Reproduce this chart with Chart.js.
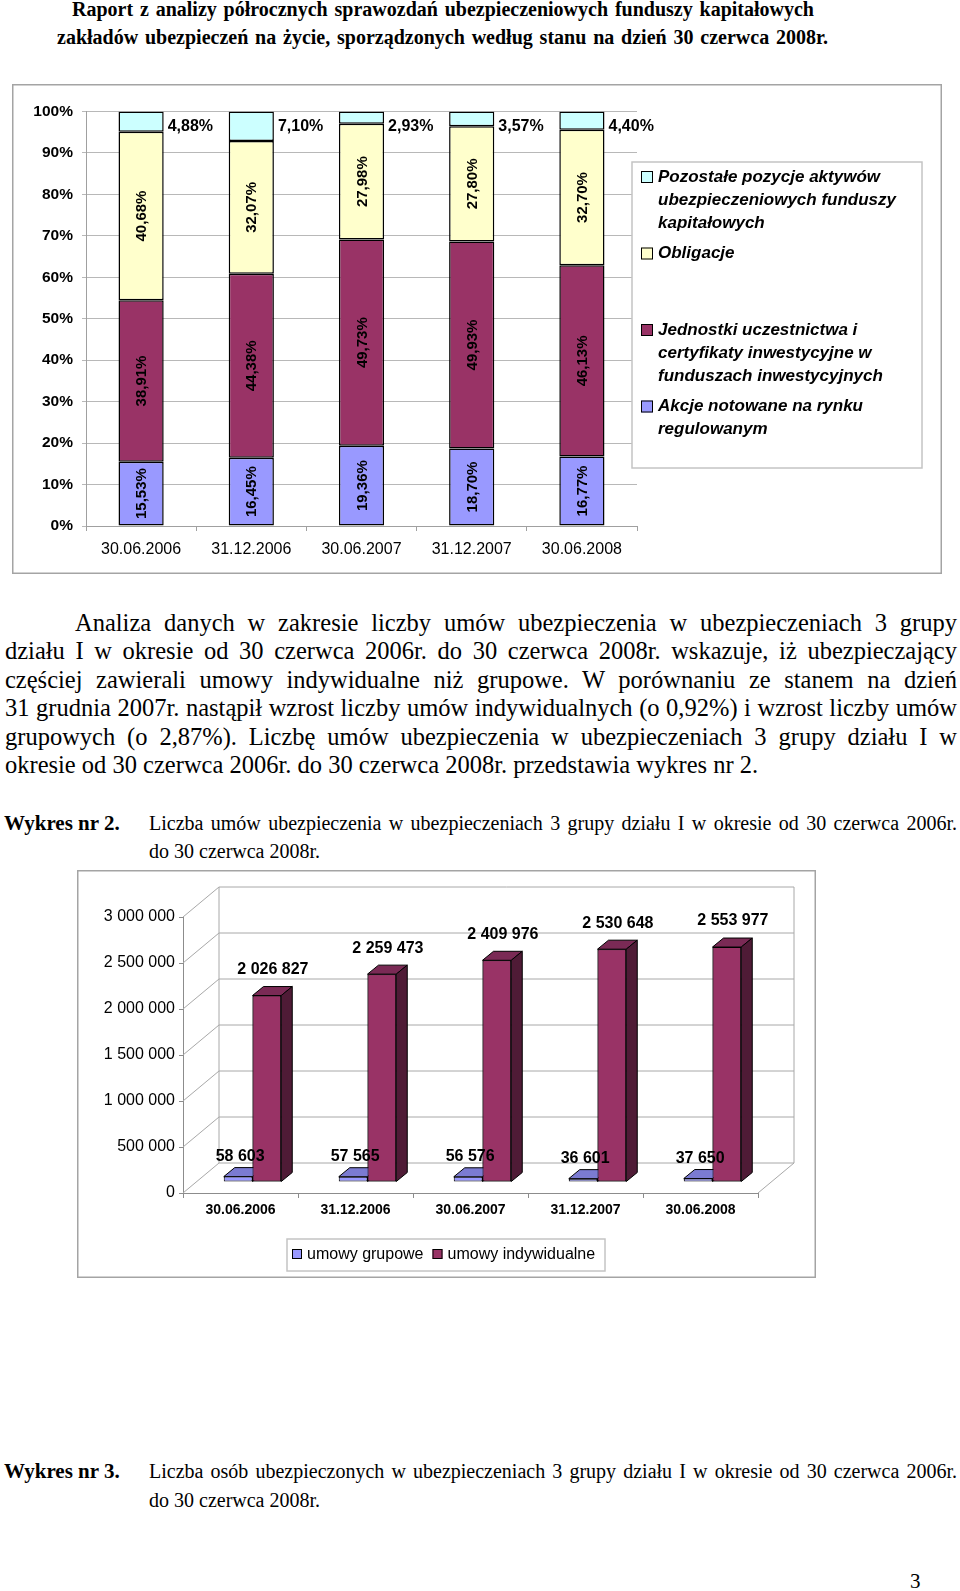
<!DOCTYPE html>
<html lang="pl">
<head>
<meta charset="utf-8">
<title>Raport - wykresy</title>
<script src="https://cdn.jsdelivr.net/npm/chart.js@4.4.0/dist/chart.umd.min.js"></script>
<style>
  body { margin: 0; background: #fff; }
  #strona {
    position: relative; width: 960px; height: 1591px; overflow: hidden;
    font-family: "Liberation Serif", "Times New Roman", serif; color: #000;
  }
  .ln { position: absolute; white-space: nowrap; }
  .j { text-align: justify; text-align-last: justify; }
  .tyt { font-size: 20px; font-weight: bold; line-height: 28px; }
  .par { font-size: 24.5px; line-height: 28px; }
  .pod { font-size: 20px; line-height: 28px; }
  canvas { position: absolute; }
</style>
</head>
<body>
<div id="strona">
  <div class="ln tyt j" style="top:-5px;left:72px;width:742px">Raport z analizy półrocznych sprawozdań ubezpieczeniowych funduszy kapitałowych</div>
  <div class="ln tyt j" style="top:23px;left:57px;width:771px">zakładów ubezpieczeń na życie, sporządzonych według stanu na dzień 30 czerwca 2008r.</div>

  <canvas id="wykres1" width="930" height="490" style="left:12px;top:84px"></canvas>

  <div class="ln par j" style="top:609px;left:75px;width:882px">Analiza danych w zakresie liczby umów ubezpieczenia w ubezpieczeniach 3 grupy</div>
  <div class="ln par j" style="top:637px;left:5px;width:952px">działu I w okresie od 30 czerwca 2006r. do 30 czerwca 2008r. wskazuje, iż ubezpieczający</div>
  <div class="ln par j" style="top:666px;left:5px;width:952px">częściej zawierali umowy indywidualne niż grupowe. W porównaniu ze stanem na dzień</div>
  <div class="ln par j" style="top:694px;left:5px;width:952px">31 grudnia 2007r. nastąpił wzrost liczby umów indywidualnych (o 0,92%) i wzrost liczby umów</div>
  <div class="ln par j" style="top:723px;left:5px;width:952px">grupowych (o 2,87%). Liczbę umów ubezpieczenia w ubezpieczeniach 3 grupy działu I w</div>
  <div class="ln par" style="top:751px;left:5px">okresie od 30 czerwca 2006r. do 30 czerwca 2008r. przedstawia wykres nr 2.</div>

  <div class="ln pod" style="top:809px;left:4px;font-weight:bold;font-size:21px">Wykres nr 2.</div>
  <div class="ln pod j" style="top:809px;left:149px;width:808px">Liczba umów ubezpieczenia w ubezpieczeniach 3 grupy działu I w okresie od 30 czerwca 2006r.</div>
  <div class="ln pod" style="top:837px;left:149px">do 30 czerwca 2008r.</div>

  <canvas id="wykres2" width="739" height="408" style="left:77px;top:870px"></canvas>

  <div class="ln pod" style="top:1457px;left:4px;font-weight:bold;font-size:21px">Wykres nr 3.</div>
  <div class="ln pod j" style="top:1457px;left:149px;width:808px">Liczba osób ubezpieczonych w ubezpieczeniach 3 grupy działu I w okresie od 30 czerwca 2006r.</div>
  <div class="ln pod" style="top:1486px;left:149px">do 30 czerwca 2008r.</div>

  <div class="ln pod" style="top:1567px;left:910px;font-size:21px">3</div>
</div>

<script>
// ---------- dane: wykres 1 (struktura aktywów, %) ----------
const kategorie = ['30.06.2006', '31.12.2006', '30.06.2007', '31.12.2007', '30.06.2008'];
const akcje = [15.53, 16.45, 19.36, 18.70, 16.77];
const jednostki = [38.91, 44.38, 49.73, 49.93, 46.13];
const obligacje = [40.68, 32.07, 27.98, 27.80, 32.70];
const pozostale = [4.88, 7.10, 2.93, 3.57, 4.40];
const nazwySerii1 = [
  'Akcje notowane na rynku regulowanym',
  'Jednostki uczestnictwa i certyfikaty inwestycyjne w funduszach inwestycyjnych',
  'Obligacje',
  'Pozostałe pozycje aktywów ubezpieczeniowych funduszy kapitałowych'
];

// ---------- dane: wykres 2 (liczba umów) ----------
const umowyGrupowe = [58603, 57565, 56576, 36601, 37650];
const umowyIndywidualne = [2026827, 2259473, 2409976, 2530648, 2553977];
const nazwySerii2 = ['umowy grupowe', 'umowy indywidualne'];

const RODZINA = '"Liberation Sans", Arial, sans-serif';
Chart.defaults.font.family = RODZINA;
Chart.defaults.color = '#000';

function procent(v) { return v.toFixed(2).replace('.', ',') + '%'; }
function liczba(v) { return String(v).replace(/\B(?=(\d{3})+(?!\d))/g, ' '); }

// zawijanie tekstu legendy
function zawin(ctx, tekst, maks) {
  const linie = [];
  let biez = '';
  tekst.split(' ').forEach(s => {
    const proba = biez ? biez + ' ' + s : s;
    if (biez && ctx.measureText(proba).width > maks) { linie.push(biez); biez = s; }
    else biez = proba;
  });
  if (biez) linie.push(biez);
  return linie;
}

function ramka(ctx, w, h) {
  ctx.save();
  ctx.fillStyle = '#fff';
  ctx.fillRect(0, 0, w, h);
  ctx.strokeStyle = '#a4a4a4';
  ctx.lineWidth = 1.5;
  ctx.strokeRect(0.75, 0.75, w - 1.5, h - 1.5);
  ctx.restore();
}

/* ---------------- WYKRES 1 ---------------- */

const ramka1 = {
  id: 'ramka1',
  beforeDraw(chart) { ramka(chart.ctx, chart.width, chart.height); }
};

// etykiety na słupkach
const etykiety1 = {
  id: 'etykiety1',
  afterDatasetsDraw(chart) {
    const ctx = chart.ctx;
    ctx.save();
    ctx.fillStyle = '#000';
    ctx.textBaseline = 'middle';
    chart.data.datasets.forEach((ds, i) => {
      chart.getDatasetMeta(i).data.forEach((bar, j) => {
        const txt = procent(ds.data[j]);
        if (i === 3) {
          // ostatnia seria - etykieta obok słupka
          ctx.font = 'bold 16px ' + RODZINA;
          ctx.textAlign = 'left';
          ctx.fillText(txt, bar.x + bar.width / 2 + 4, bar.y + 15);
        } else {
          ctx.save();
          ctx.translate(bar.x, (bar.y + bar.base) / 2);
          ctx.rotate(-Math.PI / 2);
          ctx.font = 'bold 15px ' + RODZINA;
          ctx.textAlign = 'center';
          ctx.fillText(txt, 0, 1);
          ctx.restore();
        }
      });
    });
    ctx.restore();
  }
};

const legenda1 = {
  id: 'legenda1',
  afterDraw(chart) {
    const ctx = chart.ctx;
    ctx.save();
    ctx.fillStyle = '#fff';
    ctx.fillRect(620, 78, 290, 306);
    ctx.strokeStyle = '#c4c4c4';
    ctx.lineWidth = 1.5;
    ctx.strokeRect(620, 78, 290, 306);
    ctx.font = 'italic bold 17px ' + RODZINA;
    ctx.textBaseline = 'middle';
    ctx.textAlign = 'left';
    chart.data.datasets.slice().reverse().forEach((d, k) => {
      const y0 = 93 + k * 76.5;
      ctx.fillStyle = d.backgroundColor;
      ctx.fillRect(629, y0 - 6, 12, 12);
      ctx.strokeStyle = '#000';
      ctx.lineWidth = 1;
      ctx.strokeRect(629.5, y0 - 5.5, 11, 11);
      ctx.fillStyle = '#000';
      zawin(ctx, d.label, 272).forEach((linia, n) => ctx.fillText(linia, 646, y0 + n * 23));
    });
    ctx.restore();
  }
};

new Chart(document.getElementById('wykres1'), {
  type: 'bar',
  data: {
    labels: kategorie,
    datasets: [
      { label: nazwySerii1[0], data: akcje, backgroundColor: '#9999FF' },
      { label: nazwySerii1[1], data: jednostki, backgroundColor: '#993366' },
      { label: nazwySerii1[2], data: obligacje, backgroundColor: '#FFFFCC' },
      { label: nazwySerii1[3], data: pozostale, backgroundColor: '#CCFFFF' }
    ]
  },
  options: {
    responsive: false,
    animation: false,
    layout: { padding: { left: 0, top: 27.5, right: 305, bottom: 0 } },
    datasets: {
      bar: { borderColor: '#000', borderWidth: 1.5, borderSkipped: false, categoryPercentage: 1, barPercentage: 0.41 }
    },
    plugins: { legend: { display: false }, tooltip: { enabled: false } },
    scales: {
      x: {
        stacked: true,
        grid: { offset: true, drawOnChartArea: false, tickLength: 5, color: '#a0a0a0' },
        border: { color: '#a0a0a0' },
        ticks: { padding: 9, maxRotation: 0, autoSkip: false, font: { size: 16 } },
        afterFit(s) { s.height = 48; }
      },
      y: {
        stacked: true, min: 0, max: 100,
        grid: { tickLength: 4, color: '#b8b8b8' },
        border: { color: '#a0a0a0' },
        ticks: { stepSize: 10, padding: 9, font: { size: 15.5, weight: 'bold' }, callback: v => v + '%' },
        afterFit(s) { s.width = 74; }
      }
    }
  },
  plugins: [ramka1, etykiety1, legenda1]
});

/* ---------------- WYKRES 2 (słupki 3D) ---------------- */

const GLEB = { dx: 36, dy: -30 };   // głębokość tylnej ściany
const PRZES = { dx: 12, dy: -11 };  // słupki przesunięte w głąb
const SLUPEK = { dx: 11, dy: -9 };  // grubość słupka
const scianki = [
  { gora: '#7b7bd2', bok: '#4a4a8a' },
  { gora: '#7a2a55', bok: '#4f1b36' }
];

function bryla(ctx, el, kol) {
  const { x, y, base, width } = el.getProps(['x', 'y', 'base', 'width'], true);
  const l = x - width / 2, r = x + width / 2;
  const { dx, dy } = SLUPEK;
  ctx.save();
  ctx.strokeStyle = '#000';
  ctx.lineWidth = 1;
  ctx.lineJoin = 'round';
  ctx.beginPath();
  ctx.moveTo(l, y); ctx.lineTo(l + dx, y + dy); ctx.lineTo(r + dx, y + dy); ctx.lineTo(r, y);
  ctx.closePath();
  ctx.fillStyle = kol.gora; ctx.fill(); ctx.stroke();
  ctx.beginPath();
  ctx.moveTo(r, y); ctx.lineTo(r + dx, y + dy); ctx.lineTo(r + dx, base + dy); ctx.lineTo(r, base);
  ctx.closePath();
  ctx.fillStyle = kol.bok; ctx.fill(); ctx.stroke();
  ctx.restore();
}

const wykres3d = {
  id: 'wykres3d',
  beforeDraw(chart) { ramka(chart.ctx, chart.width, chart.height); },
  beforeDatasetsDraw(chart) {
    const { ctx, chartArea: a } = chart;
    const y = chart.scales.y;
    // ściana boczna, tylna i podłoga
    ctx.save();
    ctx.strokeStyle = '#a8a8a8';
    ctx.lineWidth = 1;
    ctx.beginPath();
    y.ticks.forEach(t => {
      const py = y.getPixelForValue(t.value);
      ctx.moveTo(a.left, py);
      ctx.lineTo(a.left + GLEB.dx, py + GLEB.dy);
      ctx.lineTo(a.right + GLEB.dx, py + GLEB.dy);
    });
    ctx.moveTo(a.left + GLEB.dx, a.top + GLEB.dy); ctx.lineTo(a.left + GLEB.dx, a.bottom + GLEB.dy);
    ctx.moveTo(a.right + GLEB.dx, a.top + GLEB.dy); ctx.lineTo(a.right + GLEB.dx, a.bottom + GLEB.dy);
    ctx.moveTo(a.right, a.bottom); ctx.lineTo(a.right + GLEB.dx, a.bottom + GLEB.dy);
    ctx.stroke();
    ctx.restore();
    // słupki rysowane w głębi
    ctx.save();
    ctx.translate(PRZES.dx, PRZES.dy);
  },
  afterDatasetsDraw(chart) {
    const ctx = chart.ctx;
    const m0 = chart.getDatasetMeta(0);
    const m1 = chart.getDatasetMeta(1);
    m0.data.forEach(el => bryla(ctx, el, scianki[0]));
    // indywidualne jeszcze raz, żeby przykryć boki grupowych
    m1.data.forEach(el => { el.draw(ctx); bryla(ctx, el, scianki[1]); });

    ctx.font = 'bold 16px ' + RODZINA;
    ctx.fillStyle = '#000';
    ctx.textAlign = 'center';
    ctx.textBaseline = 'middle';
    m0.data.forEach((el, j) => ctx.fillText(liczba(chart.data.datasets[0].data[j]), el.x + 2, el.y - 20));
    m1.data.forEach((el, j) => ctx.fillText(liczba(chart.data.datasets[1].data[j]), el.x + 6, el.y - 26));
    ctx.restore();
  },
  afterDraw(chart) {
    const ctx = chart.ctx;
    ctx.save();
    ctx.strokeStyle = '#c4c4c4';
    ctx.lineWidth = 1.5;
    ctx.strokeRect(210, 369, 318, 32);
    ctx.font = '16px ' + RODZINA;
    ctx.textBaseline = 'middle';
    ctx.textAlign = 'left';
    let x = 215;
    chart.data.datasets.forEach(d => {
      ctx.fillStyle = d.backgroundColor;
      ctx.fillRect(x, 379, 10, 10);
      ctx.strokeStyle = '#000';
      ctx.lineWidth = 1;
      ctx.strokeRect(x + 0.5, 379.5, 9, 9);
      ctx.fillStyle = '#000';
      ctx.fillText(d.label, x + 15, 385);
      x += 15 + ctx.measureText(d.label).width + 9;
    });
    ctx.restore();
  }
};

new Chart(document.getElementById('wykres2'), {
  type: 'bar',
  data: {
    labels: kategorie,
    datasets: [
      { label: nazwySerii2[0], data: umowyGrupowe, backgroundColor: '#9999FF' },
      { label: nazwySerii2[1], data: umowyIndywidualne, backgroundColor: '#993366' }
    ]
  },
  options: {
    responsive: false,
    animation: false,
    layout: { padding: { left: 0, top: 47, right: 58, bottom: 0 } },
    datasets: {
      bar: { borderColor: '#000', borderWidth: 1, borderSkipped: false, categoryPercentage: 0.5, barPercentage: 1, clip: false }
    },
    plugins: { legend: { display: false }, tooltip: { enabled: false } },
    scales: {
      x: {
        grid: { offset: true, drawOnChartArea: false, tickLength: 5, color: '#8c8c8c' },
        border: { color: '#8c8c8c' },
        ticks: { padding: 4, maxRotation: 0, autoSkip: false, font: { size: 14, weight: 'bold' } },
        afterFit(s) { s.height = 85; }
      },
      y: {
        min: 0, max: 3000000,
        grid: { drawOnChartArea: false, tickLength: 4, color: '#8c8c8c' },
        border: { color: '#8c8c8c' },
        ticks: { stepSize: 500000, padding: 4, font: { size: 16 }, callback: v => liczba(v) },
        afterFit(s) { s.width = 106; }
      }
    }
  },
  plugins: [wykres3d]
});
</script>
</body>
</html>
